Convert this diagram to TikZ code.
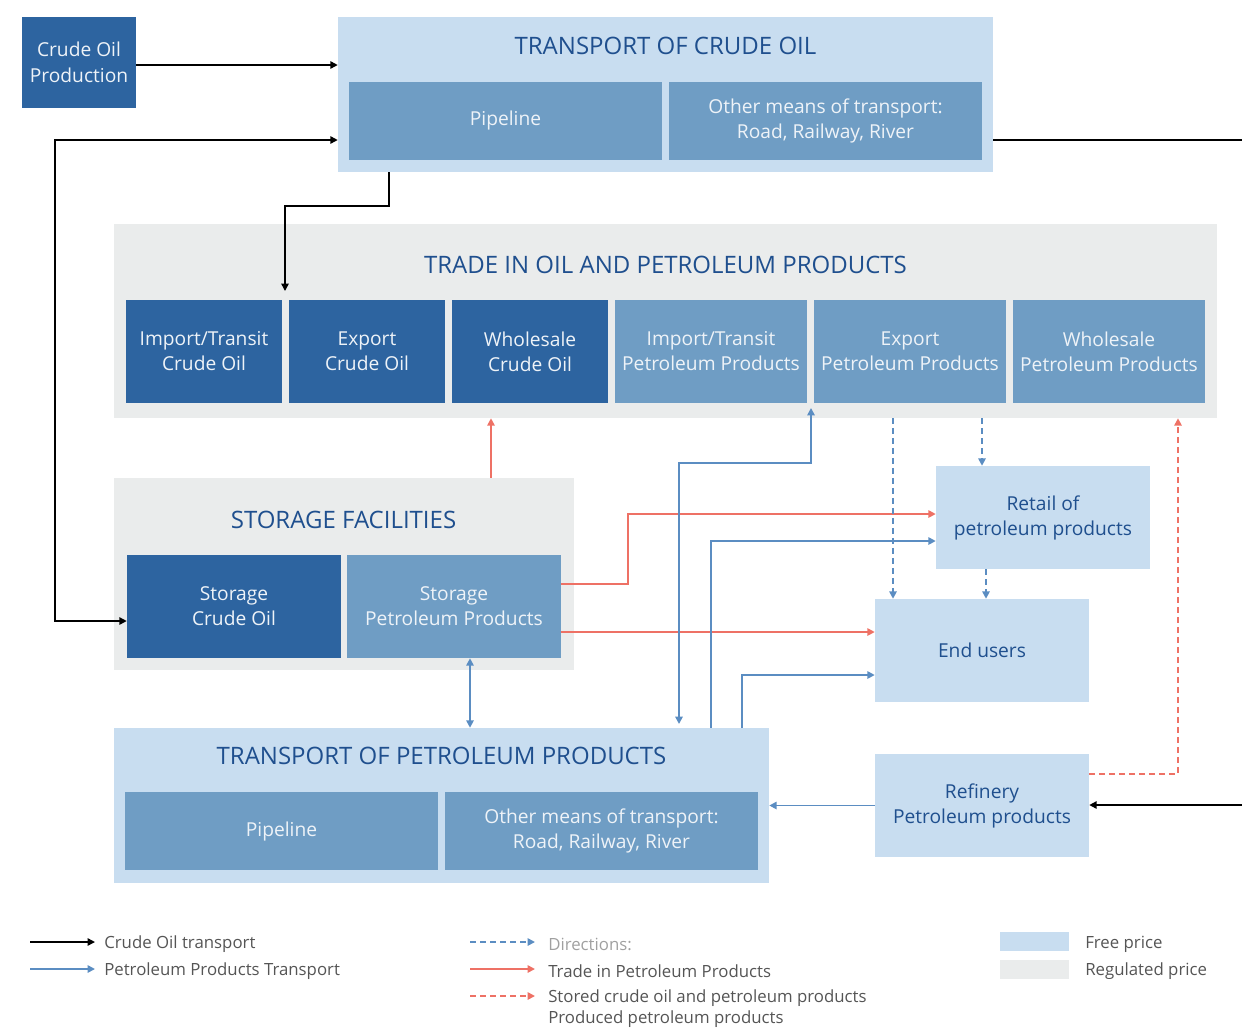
\documentclass[tikz,border=0pt]{standalone}
\usepackage{fontspec}
\setmainfont{Open Sans}
\usetikzlibrary{arrows.meta}
\definecolor{dkb}{HTML}{2D64A0}
\definecolor{mdb}{HTML}{6F9DC4}
\definecolor{ltb}{HTML}{C8DDF0}
\definecolor{gry}{HTML}{EAECEC}
\definecolor{ttl}{HTML}{1F4F8E}
\definecolor{arb}{HTML}{5B8DC2}
\definecolor{arr}{HTML}{EE7165}
\definecolor{wtx}{HTML}{EEF3F8}
\definecolor{lgt}{HTML}{555555}
\definecolor{lgl}{HTML}{A0A0A0}
\tikzset{
  wh/.style 2 args={minimum width=#1*0.75pt, minimum height=#2*0.75pt},
  box/.style={inner sep=0pt, align=center, font=\fontsize{14.4}{18.75}\selectfont},
  darkbox/.style={box, fill=dkb, text=wtx},
  midbox/.style={box, fill=mdb, text=wtx},
  lightbox/.style={box, fill=ltb, text=ttl},
  graybox/.style={inner sep=0pt, fill=gry},
  freebox/.style={inner sep=0pt, fill=ltb},
  ttlnode/.style={text=ttl, font=\fontsize{18}{22}\selectfont, inner sep=0pt},
  tip/.tip={Triangle[length=5.5pt,width=5.5pt]},
  blk/.style={draw=black, line width=1.1pt, -tip},
  blu/.style={draw=arb, line width=1.3pt, -tip},
  red/.style={draw=arr, line width=1.3pt, -tip},
  dsh/.style={dash pattern=on 4.5pt off 3pt},
  lgtext/.style={anchor=west, inner sep=0pt, text=lgt, font=\fontsize{12.6}{15}\selectfont},
}
\begin{document}
\begin{tikzpicture}[x=0.75pt,y=-0.75pt]
\useasboundingbox (0,0) rectangle (1242,1029);
% big boxes
\node[darkbox, wh={114}{91}, font=\fontsize{14.4}{19.5}\selectfont] (cop) at (79,62.5) {Crude Oil\\Production};
\node[freebox, wh={655}{155}] (tco) at (665.5,94.5) {};
\node[ttlnode] (tcot) at (665.5,46) {TRANSPORT OF CRUDE OIL};
\node[midbox, wh={313}{78}] (tcop) at (505.5,121) {Pipeline};
\node[midbox, wh={313}{78}] (tcoo) at (825.5,121) {Other means of transport:\\Road, Railway, River};

\node[graybox, wh={1103}{194}] (trade) at (665.5,321) {};
\node[ttlnode] (tradet) at (665.5,265) {TRADE IN OIL AND PETROLEUM PRODUCTS};
\node[darkbox, wh={156}{103}] (ito) at (204,351.5) {Import/Transit\\Crude Oil};
\node[darkbox, wh={156}{103}] (eco) at (367,351.5) {Export\\Crude Oil};
\node[darkbox, wh={156}{103}] (wco) at (530,351.5) {Wholesale\\Crude Oil};
\node[midbox, wh={192}{103}] (ipp) at (711,351.5) {Import/Transit\\Petroleum Products};
\node[midbox, wh={192}{103}] (epp) at (910,351.5) {Export\\Petroleum Products};
\node[midbox, wh={192}{103}] (wpp) at (1109,351.5) {Wholesale\\Petroleum Products};

\node[graybox, wh={460}{192}] (stor) at (344,574) {};
\node[ttlnode] (stort) at (343.5,520) {STORAGE FACILITIES};
\node[darkbox, wh={214}{103}] (sco) at (234,606.5) {Storage\\Crude Oil};
\node[midbox, wh={214}{103}] (spp) at (454,606.5) {Storage\\Petroleum Products};

\node[freebox, wh={655}{155}] (tpp) at (441.5,805.5) {};
\node[ttlnode] (tppt) at (441.5,756) {TRANSPORT OF PETROLEUM PRODUCTS};
\node[midbox, wh={313}{78}] (tppp) at (281.5,831) {Pipeline};
\node[midbox, wh={313}{78}] (tppo) at (601.5,831) {Other means of transport:\\Road, Railway, River};

\node[lightbox, wh={214}{103}] (ret) at (1043,517.5) {Retail of\\petroleum products};
\node[lightbox, wh={214}{103}] (eu) at (982,650.5) {End users};
\node[lightbox, wh={214}{103}] (ref) at (982,805.5) {Refinery\\Petroleum products};

\coordinate (rtop) at (1242,140);
\coordinate (rbot) at (1242,805);

% black connectors
\draw[blk] (cop.east |- 0,65) -- (tco.west |- 0,65);
\draw[blk,tip-tip] (sco.west |- 0,621) -- (55,621) -- (55,140) -- (tco.west |- 0,140);
\draw[blk] (tco.south -| 389,0) -- (389,206) -- (285,206) -- (285,291);
\draw[draw=black, line width=1.1pt] (tco.east |- rtop) -- (rtop);
\draw[blk] (rbot) -- (ref.east |- rbot);

% red connectors
\draw[red] (stor.north -| 491,0) -- (trade.south -| 491,0);
\draw[red] (spp.east |- 0,584) -- (628,584) -- (628,514) -- (ret.west |- 0,514);
\draw[red] (spp.east |- 0,632) -- (eu.west |- 0,632);
\draw[red,dsh] (ref.east |- 0,774) -- (1178,774) -- (trade.south -| 1178,0);

% blue connectors
\draw[blu,tip-tip] (spp.south -| 470,0) -- (tpp.north -| 470,0);
\draw[blu,tip-tip] (811,408) -- (811,463) -- (679,463) -- (679,724);
\draw[blu] (tpp.north -| 711,0) -- (711,541) -- (ret.west |- 0,541);
\draw[blu] (tpp.north -| 742,0) -- (742,675) -- (eu.west |- 0,675);
\draw[blu] (ref.west) -- (tpp.east |- ref.west);
\draw[blu,dsh] (trade.south -| 893,0) -- (eu.north -| 893,0);
\draw[blu,dsh] (trade.south -| 982,0) -- (ret.north -| 982,0);
\draw[blu,dsh] (ret.south -| 986,0) -- (eu.north -| 986,0);

% legend
\coordinate (l1a) at (30,942); \coordinate (l1b) at (95,942);
\coordinate (l2a) at (30,969); \coordinate (l2b) at (95,969);
\coordinate (l3a) at (470,942); \coordinate (l3b) at (535,942);
\coordinate (l4a) at (470,969); \coordinate (l4b) at (535,969);
\coordinate (l5a) at (470,996); \coordinate (l5b) at (535,996);
\draw[blk] (l1a) -- (l1b);
\draw[blu] (l2a) -- (l2b);
\draw[blu,dsh] (l3a) -- (l3b);
\draw[red] (l4a) -- (l4b);
\draw[red,dsh] (l5a) -- (l5b);
\node[lgtext] (lt1) at (104,944) {Crude Oil transport};
\node[lgtext] (lt2) at (104,971) {Petroleum Products Transport};
\node[lgtext, text=lgl] (lt3) at (548,944) {Directions:};
\node[lgtext] (lt4) at (548,971) {Trade in Petroleum Products};
\node[lgtext] (lt5) at (548,998) {Stored crude oil and petroleum products};
\node[lgtext] (lt6) at (548,1019) {Produced petroleum products};
\node[freebox, wh={69}{19}] (sw1) at (1034.5,941.5) {};
\node[graybox, wh={69}{19}] (sw2) at (1034.5,969.5) {};
\node[lgtext] (lt7) at (1085,944) {Free price};
\node[lgtext] (lt8) at (1085,971) {Regulated price};
\end{tikzpicture}
\end{document}
